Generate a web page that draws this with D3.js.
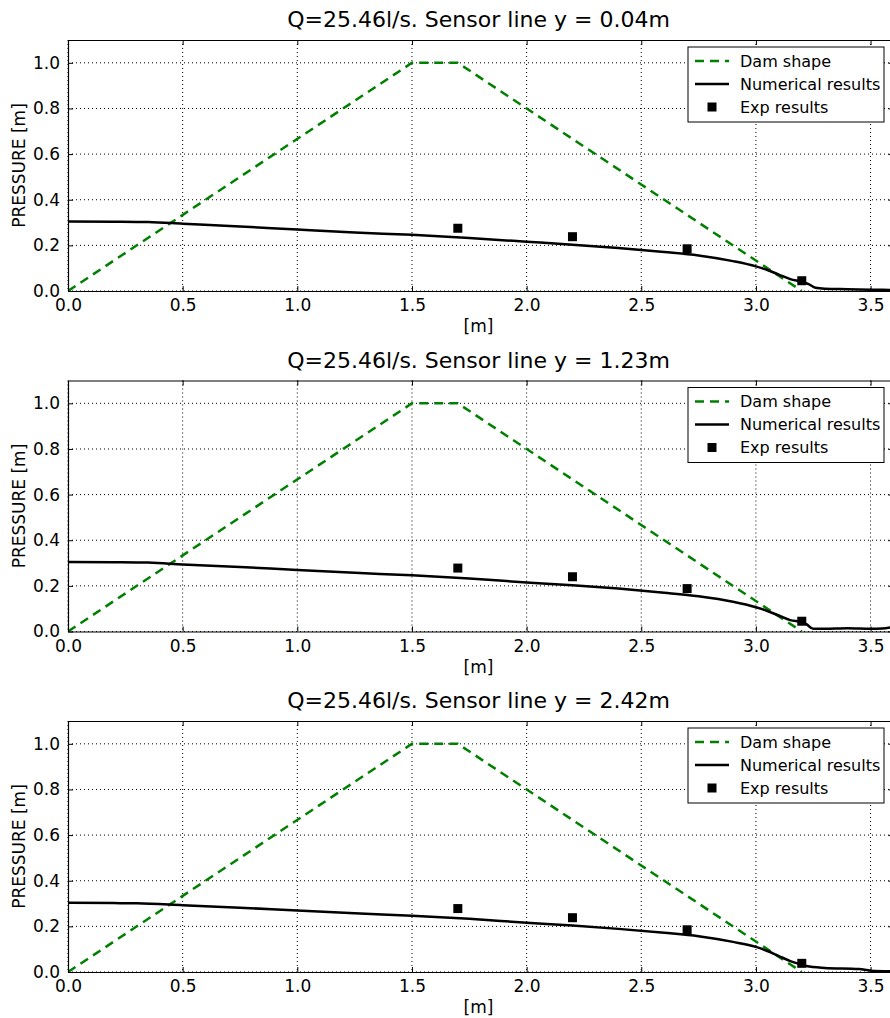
<!DOCTYPE html>
<html><head><meta charset="utf-8">
<script src="https://cdn.jsdelivr.net/npm/d3@7"></script>
<style>body{margin:0;background:#fff}svg{display:block;font-family:"DejaVu Sans",sans-serif}</style>
</head><body><svg id="c" width="890" height="1018"></svg>
<script>
const titles = ["Q=25.46l/s. Sensor line y = 0.04m","Q=25.46l/s. Sensor line y = 1.23m","Q=25.46l/s. Sensor line y = 2.42m"];
const damX = [0, 1.5, 1.7, 3.2];
const damY = [0, 1.0, 1.0, 0];
const numX1 = [0,0.2,0.35,0.5,0.75,1.0,1.25,1.5,1.75,2.0,2.2,2.4,2.6,2.75,2.9,3.0,3.05,3.1,3.15,3.2,3.23,3.26,3.3,3.4,3.5,3.6];
const numY1 = [0.305,0.304,0.302,0.295,0.283,0.269,0.256,0.246,0.232,0.216,0.203,0.188,0.171,0.156,0.131,0.108,0.092,0.072,0.052,0.04,0.03,0.014,0.01,0.008,0.006,0.004];
const numX2 = [0,0.2,0.35,0.5,0.75,1.0,1.25,1.5,1.75,2.0,2.2,2.4,2.6,2.75,2.9,3.0,3.05,3.1,3.15,3.2,3.22,3.25,3.3,3.4,3.5,3.55,3.6];
const numY2 = [0.305,0.304,0.302,0.294,0.283,0.269,0.257,0.246,0.232,0.215,0.203,0.188,0.170,0.154,0.130,0.106,0.090,0.070,0.050,0.042,0.032,0.012,0.012,0.014,0.012,0.013,0.02];
const numX3 = [0,0.2,0.3,0.5,0.75,1.0,1.25,1.5,1.75,2.0,2.2,2.4,2.6,2.75,2.9,3.0,3.05,3.1,3.15,3.2,3.22,3.3,3.45,3.5,3.6];
const numY3 = [0.303,0.302,0.301,0.293,0.282,0.269,0.257,0.246,0.233,0.216,0.204,0.189,0.172,0.157,0.132,0.110,0.092,0.070,0.048,0.032,0.026,0.018,0.013,0.006,0.003];
const expX = [1.7, 2.2, 2.7, 3.2];
const expY1 = [0.275, 0.238, 0.185, 0.045];
const expY2 = [0.278, 0.24, 0.188, 0.045];
const expY3 = [0.278, 0.238, 0.185, 0.038];
const xTicks = [0,0.5,1.0,1.5,2.0,2.5,3.0,3.5];
const yTicks = [0,0.2,0.4,0.6,0.8,1.0];
const legendLabels = ["Dam shape","Numerical results","Exp results"];

const panels = [
  {title: titles[0], nx: numX1, ny: numY1, ey: expY1},
  {title: titles[1], nx: numX2, ny: numY2, ey: expY2},
  {title: titles[2], nx: numX3, ny: numY3, ey: expY3}
];

const svg = d3.select("#c");
const L = 68, R = 893.5, H = 251;
const tops = [40, 380.5, 721];
const x = d3.scaleLinear().domain([0, 3.6]).range([L, R]);
const green = "#008000";

panels.forEach((p, i) => {
  const top = tops[i], bot = top + H;
  const y = d3.scaleLinear().domain([0, 1.1]).range([bot, top]);
  const g = svg.append("g");
  const clipId = "clip" + i;
  g.append("clipPath").attr("id", clipId).append("rect").attr("x", L).attr("y", top).attr("width", R - L).attr("height", H);

  // grid
  g.selectAll(".gx").data(xTicks).enter().append("line")
    .attr("x1", d => x(d)).attr("x2", d => x(d)).attr("y1", top).attr("y2", bot)
    .attr("stroke", "#000").attr("stroke-width", 1).attr("stroke-dasharray", "1,3");
  g.selectAll(".gy").data(yTicks).enter().append("line")
    .attr("x1", L).attr("x2", R).attr("y1", d => y(d)).attr("y2", d => y(d))
    .attr("stroke", "#000").attr("stroke-width", 1).attr("stroke-dasharray", "1,3");

  const plot = g.append("g").attr("clip-path", `url(#${clipId})`);
  const line = d3.line().x(d => x(d[0])).y(d => y(d[1]));
  plot.append("path").datum(damX.map((v, k) => [v, damY[k]]))
    .attr("d", line).attr("fill", "none").attr("stroke", green).attr("stroke-width", 2.5).attr("stroke-dasharray", "9,6");
  plot.append("path").datum(p.nx.map((v, k) => [v, p.ny[k]]))
    .attr("d", d3.line().curve(d3.curveMonotoneX).x(d => x(d[0])).y(d => y(d[1])))
    .attr("fill", "none").attr("stroke", "#000").attr("stroke-width", 2.5);
  plot.selectAll(".e").data(expX.map((v, k) => [v, p.ey[k]])).enter().append("rect")
    .attr("x", d => x(d[0]) - 4.5).attr("y", d => y(d[1]) - 4.5).attr("width", 9).attr("height", 9).attr("fill", "#000");

  // axes
  const ax = d3.axisBottom(x).tickValues(xTicks).tickFormat(d3.format(".1f")).tickSizeInner(-5).tickSizeOuter(0).tickPadding(8);
  const ga = g.append("g").attr("transform", `translate(0,${bot})`).call(ax);
  const axT = d3.axisTop(x).tickValues(xTicks).tickFormat("").tickSizeInner(-5).tickSizeOuter(0);
  const gt = g.append("g").attr("transform", `translate(0,${top})`).call(axT);
  const ay = d3.axisLeft(y).tickValues(yTicks).tickFormat(d3.format(".1f")).tickSizeInner(-5).tickSizeOuter(0).tickPadding(8);
  const gy = g.append("g").attr("transform", `translate(${L},0)`).call(ay);
  const ayR = d3.axisRight(y).tickValues(yTicks).tickFormat("").tickSizeInner(-5).tickSizeOuter(0);
  const gr = g.append("g").attr("transform", `translate(${R},0)`).call(ayR);
  [ga, gt, gy, gr].forEach(a => {
    a.select(".domain").attr("stroke", "#000").attr("stroke-width", 1.2);
    a.selectAll(".tick line").attr("stroke", "#000");
    a.selectAll("text").attr("font-size", 17).attr("fill", "#000").attr("font-family", "DejaVu Sans");
  });
  ga.selectAll("text").attr("dy", "0.71em");

  g.append("text").attr("x", (L + 889) / 2).attr("y", top - 13).attr("text-anchor", "middle")
    .attr("font-size", 22).text(p.title);
  g.append("text").attr("x", (L + 889) / 2).attr("y", bot + 41).attr("text-anchor", "middle")
    .attr("font-size", 17).text("[m]");
  g.append("text").attr("transform", `translate(25,${(top + bot) / 2}) rotate(-90)`).attr("text-anchor", "middle")
    .attr("font-size", 17).text("PRESSURE [m]");

  // legend
  const lx = 688, ly = top + 7;
  const lg = g.append("g");
  lg.append("rect").attr("x", lx).attr("y", ly).attr("width", 196).attr("height", 75)
    .attr("fill", "#fff").attr("stroke", "#000").attr("stroke-width", 1);
  const rows = [ly + 14, ly + 37, ly + 60];
  lg.append("line").attr("x1", lx + 7).attr("x2", lx + 41).attr("y1", rows[0]).attr("y2", rows[0])
    .attr("stroke", green).attr("stroke-width", 2.5).attr("stroke-dasharray", "9,6");
  lg.append("line").attr("x1", lx + 7).attr("x2", lx + 41).attr("y1", rows[1]).attr("y2", rows[1])
    .attr("stroke", "#000").attr("stroke-width", 2.5);
  lg.append("rect").attr("x", lx + 24 - 4.5).attr("y", rows[2] - 4.5).attr("width", 9).attr("height", 9).attr("fill", "#000");
  legendLabels.forEach((t, k) => {
    lg.append("text").attr("x", lx + 52).attr("y", rows[k]).attr("dy", "0.35em").attr("font-size", 16).text(t);
  });
});
</script></body></html>
